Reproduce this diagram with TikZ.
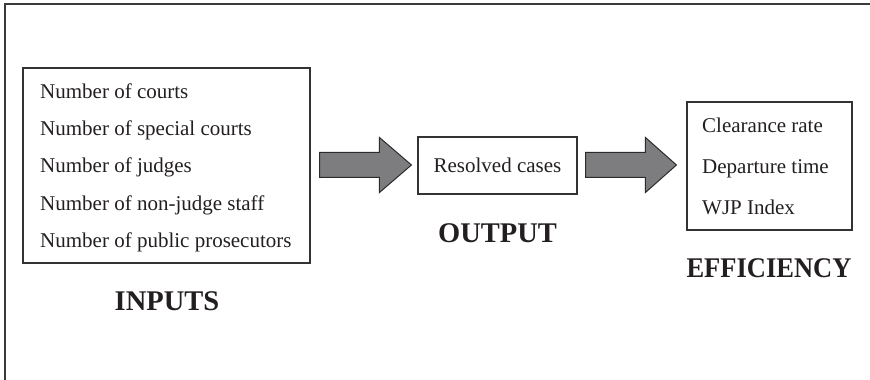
\documentclass[tikz,border=0pt]{standalone}
\usepackage{fontspec}
\setmainfont{Liberation Serif}
\usetikzlibrary{calc}
\definecolor{framec}{HTML}{3A3A3A}
\definecolor{boxc}{HTML}{333333}
\definecolor{txt}{HTML}{231F20}
\definecolor{arrfill}{HTML}{7D7D80}
\definecolor{arrline}{HTML}{2B2B2B}
\begin{document}
\begin{tikzpicture}[x=1pt,y=1pt,
  box/.style={draw=boxc, line width=1.1pt, inner sep=0pt},
  item/.style={anchor=base west, inner sep=0pt, font=\fontsize{21}{24}\selectfont, text=txt},
  head/.style={inner sep=0pt, font=\fontsize{28.5}{33}\selectfont\bfseries, text=txt},
  blockarrow/.style={draw=arrline, fill=arrfill, line width=1pt, line join=miter}]
\useasboundingbox (0,0) rectangle (870,380);
\draw[line width=2pt, draw=framec] (5,0) -- (5,376) -- (870,376);
% inputs
\node[box, minimum width=287pt, minimum height=195pt] (in) at (166.5,214.5) {};
\node[item] (i1) at (40,281) {Number of courts};
\node[item] (i2) at (40,244) {Number of special courts};
\node[item] (i3) at (40,207) {Number of judges};
\node[item] (i4) at (40,169) {Number of non-judge staff};
\node[item] (i5) at (40,132) {Number of public prosecutors};
\node[head] (lin) at (167,79) {INPUTS};
% output
\node[box, minimum width=159pt, minimum height=57pt, font=\fontsize{21}{24}\selectfont, text=txt] (res) at (497.5,214.5) {Resolved cases};
\node[head] (lout) at (497.5,147) {OUTPUT};
% efficiency
\node[box, minimum width=165pt, minimum height=128pt] (eff) at (769.5,214) {};
\node[item] (e1) at (702,247) {Clearance rate};
\node[item] (e2) at (702,206) {Departure time};
\node[item] (e3) at (702,165) {WJP Index};
\node[head, transform shape, xscale=0.93] (leff) at (769,112) {EFFICIENCY};
% block arrows
\coordinate (a1s) at ($(in.east)+(9,0.5)$);
\coordinate (a1t) at ($(res.west)+(-6,0.5)$);
\draw[blockarrow] ($(a1s)+(0,12.5)$) -- ($(a1t)+(-32,12.5)$) -- ($(a1t)+(-32,27.5)$) -- (a1t)
  -- ($(a1t)+(-32,-27.5)$) -- ($(a1t)+(-32,-12.5)$) -- ($(a1s)+(0,-12.5)$) -- cycle;
\coordinate (a2s) at ($(res.east)+(8,0.5)$);
\coordinate (a2t) at ($(eff.west)+(-10,1)$);
\draw[blockarrow] ($(a2s)+(0,12.5)$) -- ($(a2t)+(-31,12.5)$) -- ($(a2t)+(-31,27.5)$) -- (a2t)
  -- ($(a2t)+(-31,-27.5)$) -- ($(a2t)+(-31,-12.5)$) -- ($(a2s)+(0,-12.5)$) -- cycle;
\end{tikzpicture}
\end{document}
